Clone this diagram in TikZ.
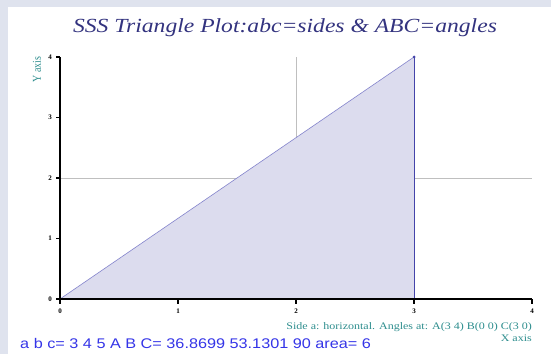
\documentclass[tikz,border=0pt]{standalone}
\usepackage{fontspec}
\setmainfont{Liberation Serif}
\newfontfamily\infofont{Liberation Sans}
\definecolor{panelbg}{HTML}{DFE3EE}
\definecolor{trifill}{HTML}{DCDCEE}
\definecolor{triedge}{HTML}{8484CC}
\definecolor{sidea}{HTML}{4444AA}
\definecolor{titleblue}{HTML}{33337F}
\definecolor{axisteal}{HTML}{2E8E8E}
\definecolor{infoblue}{HTML}{3535E8}
\tikzset{
  gridline/.style={draw=black!25, line width=0.8pt},
  axisline/.style={draw=black, line width=1.3pt},
  ticklab/.style={font=\fontsize{7}{7}\selectfont\bfseries, inner sep=0pt},
  axislab/.style={font=\fontsize{10}{10}\selectfont, text=axisteal, inner sep=0pt, xscale=1.2}
}
\begin{document}
\begin{tikzpicture}[x=1pt,y=1pt]
\fill[panelbg] (0,0) rectangle (551,354);
\fill[white] (8,0) rectangle (551,347);
\useasboundingbox (0,0) rectangle (551,354);
\node[text=titleblue, font=\fontsize{20}{20}\selectfont\itshape, xscale=1.18] (title) at (285,326) {SSS Triangle Plot:abc=sides \& ABC=angles};
\begin{scope}[shift={(60,55)}, x=118pt, y=60.5pt]
% grid
\draw[gridline] (2,0) -- (2,4);
\draw[gridline] (0,2) -- (4,2);
% triangle
\coordinate (B) at (0,0);
\coordinate (A) at (3,4);
\coordinate (C) at (3,0);
\fill[trifill] (B) -- (A) -- (C) -- cycle;
\draw[triedge, line width=0.6pt] (B) -- (A);
\draw[sidea, line width=1pt] (A) -- (C);
\fill[sidea] (A) circle (1.5pt);
% axes
\draw[axisline] (0,0) -- (4,0);
\draw[axisline] (0,0) -- (0,4);
\foreach \i in {0,...,4} {
  \draw[axisline] (\i,0) -- ++(0,-4.5pt);
  \node[ticklab] (xt\i) at (\i,-12pt) {\i};
  \draw[axisline] (0,\i) -- ++(-4.5pt,0);
  \node[ticklab] (yt\i) at (-10pt,\i) {\i};
}
\node[axislab, rotate=90, xscale=1] (ylab) at (-23pt,3.79) {Y axis};
\node[axislab, anchor=east] (xlab) at (4,-39pt) {X axis};
\node[axislab, anchor=east] (sidelab) at (4,-28pt) {Side a: horizontal. Angles at: A(3 4) B(0 0) C(3 0)};
\end{scope}
\node[anchor=west, text=infoblue, font=\infofont\fontsize{14}{14}\selectfont, inner sep=0pt, xscale=1.16] (info) at (20,11) {a b c= 3 4 5 A B C= 36.8699 53.1301 90 area= 6};
\end{tikzpicture}
\end{document}
